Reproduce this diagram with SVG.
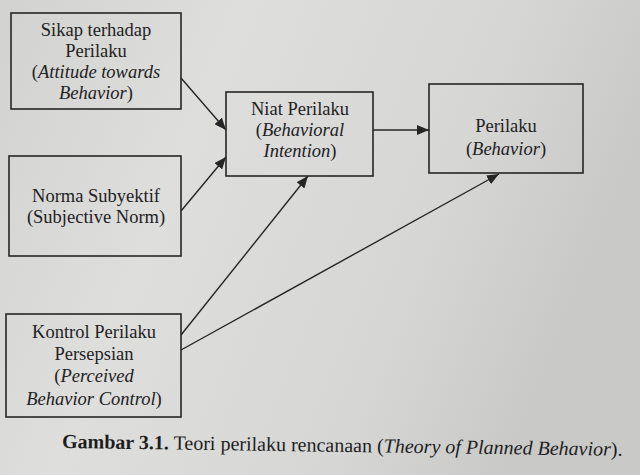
<svg xmlns="http://www.w3.org/2000/svg" width="640" height="475" viewBox="0 0 640 475">
<style>
.box{fill:none;stroke:#262626;stroke-width:1.6}
.t{font-family:"Liberation Serif","Times New Roman",serif;font-size:18.5px;fill:#222;text-anchor:middle}
.i{font-style:italic}
.c{stroke:#262626;stroke-width:1.4;fill:none;marker-end:url(#ah)}
.cap{font-family:"Liberation Serif","Times New Roman",serif;font-size:20px;fill:#1e1e1e}
</style>
<defs>
<linearGradient id="bg" x1="0" y1="0" x2="1" y2="0.3">
<stop offset="0" stop-color="#d2d2d1"/>
<stop offset="0.35" stop-color="#dededd"/>
<stop offset="0.75" stop-color="#d6d6d5"/>
<stop offset="1" stop-color="#c9c9c8"/>
</linearGradient>
<marker id="ah" viewBox="0 0 12 10" refX="12" refY="5" markerWidth="12" markerHeight="10" markerUnits="userSpaceOnUse" orient="auto">
<path d="M0,0 L12,5 L0,10 Z" fill="#262626"/>
</marker>
</defs>
<rect width="640" height="475" fill="url(#bg)"/>
<g id="connectors">
<line class="c" x1="181" y1="78" x2="226" y2="130"/>
<line class="c" x1="181" y1="211" x2="226" y2="157"/>
<line class="c" x1="181" y1="335" x2="308" y2="176"/>
<line class="c" x1="181" y1="350" x2="499" y2="174"/>
<line class="c" x1="373" y1="130" x2="429" y2="130"/>
</g>
<g id="sikap">
<rect class="box" x="11" y="13" width="170" height="96"/>
<text class="t" x="96" y="36">Sikap terhadap</text>
<text class="t" x="96" y="57">Perilaku</text>
<text class="t" x="96" y="78">(<tspan class="i">Attitude towards</tspan></text>
<text class="t" x="96" y="99"><tspan class="i">Behavior</tspan>)</text>
</g>
<g id="norma">
<rect class="box" x="9" y="156" width="172" height="100"/>
<text class="t" x="96" y="202">Norma Subyektif</text>
<text class="t" x="96" y="223">(Subjective Norm)</text>
</g>
<g id="kontrol">
<rect class="box" x="6" y="314" width="175" height="103"/>
<text class="t" x="94" y="338">Kontrol Perilaku</text>
<text class="t" x="94" y="360">Persepsian</text>
<text class="t" x="94" y="382">(<tspan class="i">Perceived</tspan></text>
<text class="t" x="94" y="405"><tspan class="i">Behavior Control</tspan>)</text>
</g>
<g id="niat">
<rect class="box" x="226" y="92" width="147" height="84"/>
<text class="t" x="300" y="115">Niat Perilaku</text>
<text class="t" x="300" y="136">(<tspan class="i">Behavioral</tspan></text>
<text class="t" x="300" y="157"><tspan class="i">Intention</tspan>)</text>
</g>
<g id="perilaku">
<rect class="box" x="429" y="84" width="154" height="89"/>
<text class="t" x="506" y="132">Perilaku</text>
<text class="t" x="506" y="155">(<tspan class="i">Behavior</tspan>)</text>
</g>
<g id="caption" transform="rotate(0.8 62 447)">
<text class="cap" x="62" y="448"><tspan font-weight="bold">Gambar 3.1.</tspan> Teori perilaku rencanaan (<tspan font-style="italic">Theory of Planned Behavior</tspan>).</text>
</g>
</svg>
